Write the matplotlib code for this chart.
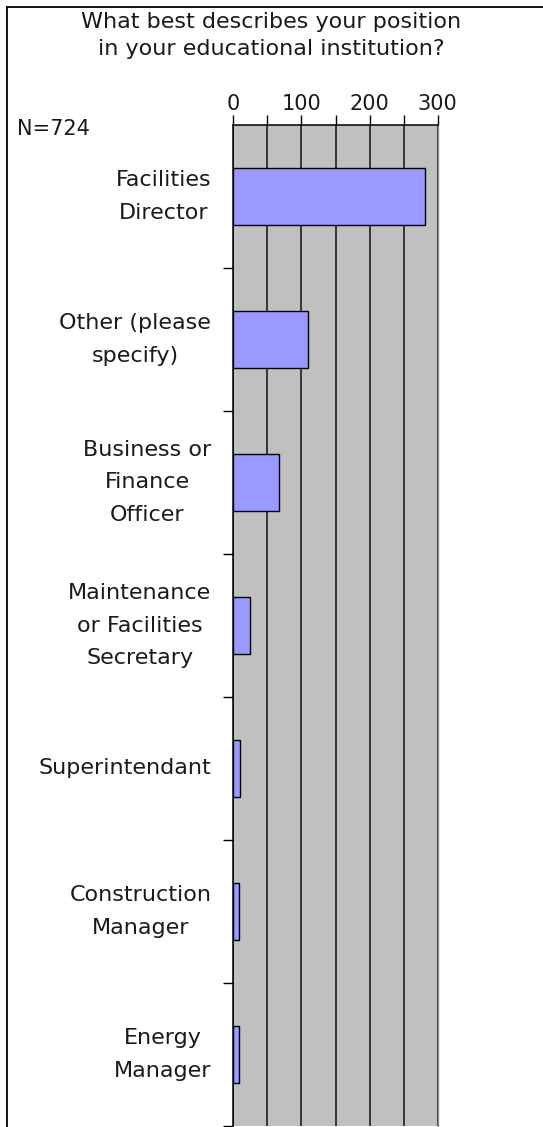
import matplotlib
matplotlib.use("Agg")
import matplotlib.pyplot as plt
from matplotlib.lines import Line2D
from matplotlib.transforms import ScaledTranslation
from matplotlib.ticker import MultipleLocator, FuncFormatter, FixedLocator

plt.rcParams['font.family'] = ['DejaVu Sans']

title = "What best describes your position\nin your educational institution?"
n_label = "N=724"
categories = ["Facilities\nDirector", "Other (please\nspecify)", "Business or\nFinance\nOfficer",
              "Maintenance\nor Facilities\nSecretary", "Superintendant",
              "Construction\nManager", "Energy\nManager"]
values = [282, 109, 67, 24, 10, 8, 8]
xmax = 300
grid_step = 50
label_step = 100

W, H = 543, 1127
fig = plt.figure(figsize=(W / 100, H / 100), dpi=100)
ax = fig.add_axes([233.3 / W, 1 / H, (437.7 - 233.3) / W, (1126 - 125) / H])

pos = list(range(len(categories)))
ax.set_facecolor('#C0C0C0')
ax.barh(pos, values, height=0.4, color='#9999FF', edgecolor='black', linewidth=1.0, zorder=3)
ax.set_xlim(0, xmax)
ax.set_ylim(len(categories) - 0.5, -0.5)

ax.xaxis.set_major_locator(MultipleLocator(grid_step))
ax.xaxis.set_major_formatter(FuncFormatter(lambda v, p: f"{int(v)}" if v % label_step == 0 else ""))
ax.xaxis.tick_top()
ax.tick_params(axis='x', which='major', direction='out', length=7.5, width=1.0, color='black',
               labelsize=15, pad=0.5, labelcolor='#1a1a1a')
ax.grid(axis='x', color='#111111', linewidth=1.1, zorder=1)
ax.set_axisbelow(True)

ax.yaxis.set_major_locator(FixedLocator([i + 0.5 for i in pos[:-1]] + [len(categories) - 0.5]))
ax.yaxis.set_major_formatter(FuncFormatter(lambda v, p: ""))
ax.tick_params(axis='y', which='major', direction='out', length=7.5, width=1.0, color='black')

# category labels: centred block, right edge ~22 px left of the axis
base = ax.get_yaxis_transform()
tr = base + ScaledTranslation(-22 / 100, 0, fig.dpi_scale_trans)
for y, lab in zip(pos, categories):
    ax.text(0, y, lab, transform=tr, ha='right', va='center', multialignment='center',
            fontsize=16, color='#1a1a1a', linespacing=1.8)

for s in ['left', 'top']:
    ax.spines[s].set_color('black')
    ax.spines[s].set_linewidth(1.1)
ax.spines['right'].set_color('#8a8a8a')
ax.spines['right'].set_linewidth(1.0)
ax.spines['bottom'].set_visible(False)

fig.text(0.5, 1 - 12 / H, title, ha='center', va='top', fontsize=16, color='#1a1a1a',
         linespacing=1.45)
fig.text(17 / W, 1 - 129 / H, n_label, ha='left', va='center', fontsize=15, color='#1a1a1a')

fig.add_artist(Line2D([7 / W, 7 / W], [0, 1 - 7 / H], transform=fig.transFigure,
                      color='black', linewidth=1.3))
fig.add_artist(Line2D([7 / W, 1], [1 - 7 / H, 1 - 7 / H], transform=fig.transFigure,
                      color='black', linewidth=1.3))

fig.savefig("out.png", dpi=100)
